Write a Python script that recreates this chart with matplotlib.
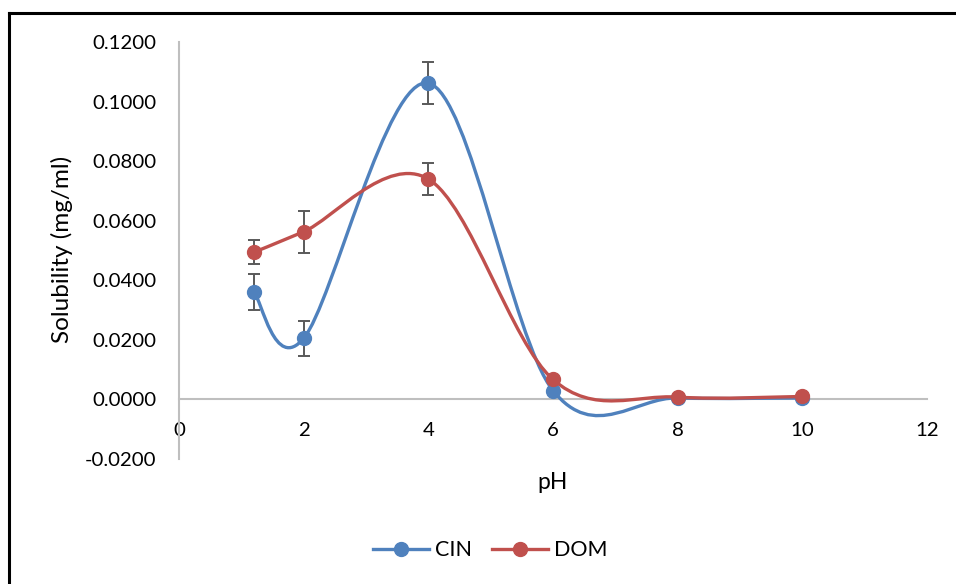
import numpy as np
import matplotlib
matplotlib.use("Agg")
import matplotlib.pyplot as plt
from matplotlib.lines import Line2D
from matplotlib.path import Path
from matplotlib.patches import PathPatch

plt.rcParams['font.family'] = ['Lato', 'DejaVu Sans']

# pH values and solubility (mg/ml)
ph = [1.2, 2, 4, 6, 8, 10]
cin = [0.0360, 0.0205, 0.1062, 0.0030, 0.0005, 0.0005]
cin_err = [0.0060, 0.0060, 0.0070, 0.0, 0.0, 0.0]
dom = [0.0494, 0.0563, 0.0740, 0.0067, 0.0008, 0.0010]
dom_err = [0.0040, 0.0070, 0.0055, 0.0, 0.0, 0.0]

blue = "#4F81BD"
red = "#C0504D"


def smooth_path(xs, ys):
    # excel-like smoothed line: cubic bezier, catmull-rom style control points
    p = np.column_stack([xs, ys]).astype(float)
    n = len(p)
    verts = [p[0]]
    codes = [Path.MOVETO]
    for i in range(n - 1):
        prev = p[i - 1] if i > 0 else p[i]
        nxt = p[i + 2] if i + 2 < n else p[i + 1]
        c1 = p[i] + (p[i + 1] - prev) / 6.0
        c2 = p[i + 1] - (nxt - p[i]) / 6.0
        verts += [c1, c2, p[i + 1]]
        codes += [Path.CURVE4] * 3
    return Path(verts, codes)


fig = plt.figure(figsize=(9.56, 5.84), dpi=100)
ax = fig.add_axes([0.1872, 0.214, 0.7825, 0.7141])

for ys, err, col in [(cin, cin_err, blue), (dom, dom_err, red)]:
    ax.add_patch(PathPatch(smooth_path(ph, ys), fill=False, edgecolor=col,
                           lw=2.4, zorder=3, capstyle='round'))
    e = np.array(err)
    m = e > 0
    ax.errorbar(np.array(ph)[m], np.array(ys)[m], yerr=e[m], fmt='none',
                ecolor="#595959", elinewidth=1.4, capsize=4.5, capthick=1.4, zorder=2)
    ax.plot(ph, ys, 'o', color=col, ms=10, zorder=4)

ax.set_xlim(0, 12)
ax.set_ylim(-0.02, 0.12)
ax.set_xticks(np.arange(0, 13, 2))
ax.set_yticks(np.arange(-0.02, 0.121, 0.02))
ax.set_yticklabels([f"{v:.4f}" for v in np.arange(-0.02, 0.121, 0.02)])

for s in ['top', 'right']:
    ax.spines[s].set_visible(False)
ax.spines['bottom'].set_position(('data', 0))
ax.spines['bottom'].set_color("#BFBFBF")
ax.spines['left'].set_color("#BFBFBF")
ax.spines['bottom'].set_linewidth(1.5)
ax.spines['left'].set_linewidth(1.5)
ax.tick_params(axis='both', length=0, labelsize=14.7)
ax.tick_params(axis='x', pad=16)
ax.tick_params(axis='y', pad=16)

fig.text(0.065, 0.573, "Solubility (mg/ml)", rotation=90, ha='center', va='center', fontsize=17.5)
fig.text(0.578, 0.173, "pH", ha='center', va='center', fontsize=16.5)

handles = [Line2D([], [], color=blue, lw=2.4, marker='o', ms=10),
           Line2D([], [], color=red, lw=2.4, marker='o', ms=10)]
fig.legend(handles, ["CIN", "DOM"], loc='center', bbox_to_anchor=(0.513, 0.058),
           ncol=2, frameon=False, fontsize=15.5, handlelength=2.6,
           columnspacing=0.9, handletextpad=0.3)

# outer frame (only top and left visible in the crop)
fig.add_artist(Line2D([0.009, 1.0], [0.978, 0.978], color='black', lw=2.2, transform=fig.transFigure))
fig.add_artist(Line2D([0.009, 0.009], [0.0, 0.978], color='black', lw=2.2, transform=fig.transFigure))

fig.savefig("out.png", dpi=100)
